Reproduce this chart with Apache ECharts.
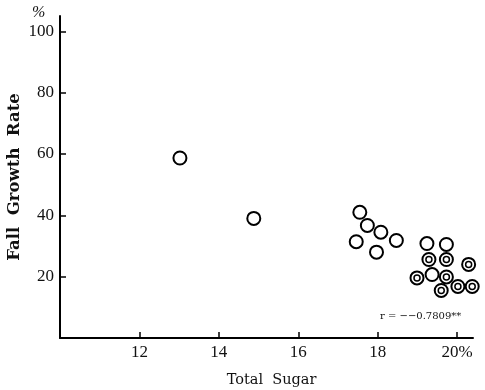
<!DOCTYPE html>
<html lang="en">
<head>
    <meta charset="UTF-8">
    <title>Fall Growth Rate vs Total Sugar</title>
</head>
<body style="margin:0;background:#fff;">
<div id="main" style="width:485px;height:390px;"></div>

<script src="https://cdn.jsdelivr.net/npm/echarts@6/dist/echarts.min.js"></script>
<script type="text/javascript">
    // open circles: [total sugar %, fall growth rate %]
    var openSugar  = [13.02, 14.88, 17.55, 17.74, 18.08, 17.46, 18.47, 17.97, 19.24, 19.73, 19.37];
    var openGrowth = [58.7, 39.0, 41.0, 36.7, 34.5, 31.4, 31.8, 28.0, 30.8, 30.5, 20.7];
    // double circles
    var dblSugar  = [19.29, 19.73, 20.29, 18.99, 19.73, 19.60, 20.02, 20.38];
    var dblGrowth = [25.6, 25.6, 24.0, 19.6, 19.9, 15.5, 16.8, 16.8];

    var xTicks = [12, 14, 16, 18, 20];
    var yTicks = [20, 40, 60, 80, 100];
    var rText = 'r = \u2212\u22120.7809**';

    function pairs(xs, ys) {
        var out = [];
        for (var i = 0; i < xs.length; i++) out.push([xs[i], ys[i]]);
        return out;
    }

    var serif = '"Liberation Serif", serif';
    var wide = '"DejaVu Serif", serif';
    var myChart = echarts.init(document.getElementById('main'));
    var option = {
        animation: false,
        backgroundColor: '#fff',
        grid: {left: 60, right: 12, top: 16, bottom: 52, containLabel: false, outerBoundsMode: 'none'},
        xAxis: {
            type: 'value',
            min: 10,
            max: 20.4,
            name: 'Total  Sugar',
            nameLocation: 'middle',
            nameGap: 35,
            nameMoveOverlap: false,
            nameTextStyle: {fontFamily: wide, fontSize: 14.5, color: '#111', padding: [0, 0, 0, 10]},
            axisLine: {lineStyle: {color: '#000', width: 2}},
            axisTick: {inside: true, length: 6, lineStyle: {color: '#000', width: 1.5}, customValues: xTicks},
            axisLabel: {
                customValues: xTicks,
                fontFamily: serif, fontSize: 17, color: '#111', margin: 6,
                formatter: function (v) { return v === 20 ? '20%' : v; }
            },
            splitLine: {show: false}
        },
        yAxis: {
            type: 'value',
            min: 0,
            max: 105,
            name: 'Fall  Growth  Rate',
            nameLocation: 'middle',
            nameGap: 37,
            nameMoveOverlap: false,
            nameTextStyle: {fontFamily: wide, fontSize: 16.5, fontWeight: 'bold', color: '#111'},
            axisLine: {lineStyle: {color: '#000', width: 2}},
            axisTick: {inside: true, length: 6, lineStyle: {color: '#000', width: 1.5}, customValues: yTicks},
            axisLabel: {customValues: yTicks, fontFamily: serif, fontSize: 17, color: '#111', margin: 6},
            splitLine: {show: false}
        },
        graphic: [
            {type: 'text', left: 32, top: 5, style: {text: '%', font: 'italic 16px ' + serif, fill: '#111'}},
            {type: 'text', left: 380, top: 311, style: {text: rText, font: '10px ' + wide, fill: '#111'}}
        ],
        series: [
            {
                name: 'open', type: 'scatter', symbol: 'circle', symbolSize: 13,
                itemStyle: {color: '#fff', borderColor: '#000', borderWidth: 2, opacity: 1},
                data: pairs(openSugar, openGrowth)
            },
            {
                name: 'double outer', type: 'scatter', symbol: 'circle', symbolSize: 13,
                itemStyle: {color: '#fff', borderColor: '#000', borderWidth: 2, opacity: 1},
                data: pairs(dblSugar, dblGrowth)
            },
            {
                name: 'double inner', type: 'scatter', symbol: 'circle', symbolSize: 6,
                itemStyle: {color: '#fff', borderColor: '#000', borderWidth: 1.5, opacity: 1},
                data: pairs(dblSugar, dblGrowth)
            }
        ]
    };
    myChart.setOption(option);
</script>
</body>
</html>
